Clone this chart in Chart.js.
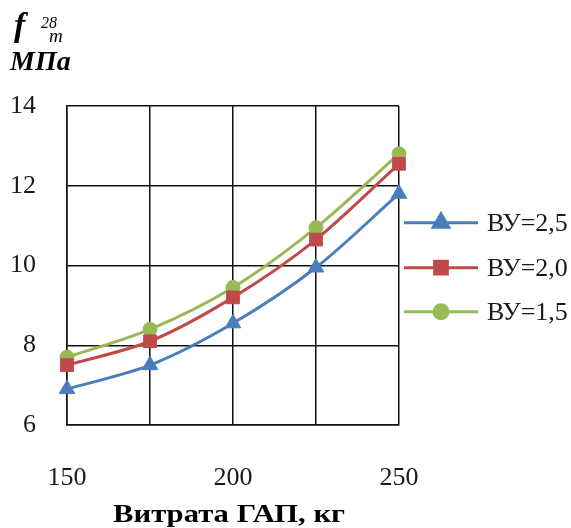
<!DOCTYPE html>
<html>
<head>
<meta charset="utf-8">
<script src="https://cdn.jsdelivr.net/npm/chart.js@4/dist/chart.umd.min.js"></script>
<style>
  html, body { margin: 0; padding: 0; background: #fff; }
  #wrap { width: 571px; height: 528px; }
</style>
</head>
<body>
<div id="wrap"><canvas id="c" width="571" height="528"></canvas></div>
<script>
// Consumption of ГАП, kg
const categories = [150, 175, 200, 225, 250];
// Strength f28m, MPa for each ВУ value
const vu25 = [6.9, 7.5, 8.55, 9.95, 11.8];
const vu20 = [7.5, 8.1, 9.2, 10.65, 12.55];
const vu15 = [7.7, 8.4, 9.45, 10.95, 12.8];
const seriesNames = ['ВУ=2,5', 'ВУ=2,0', 'ВУ=1,5'];
const xTickLabels = ['150', '', '200', '', '250'];
const yTicks = [6, 8, 10, 12, 14];
const xTitle = 'Витрата ГАП, кг';

const SERIF = '"Liberation Serif", "Times New Roman", serif';

const legendPlugin = {
  id: 'sideLegend',
  afterDraw(chart) {
    const ctx = chart.ctx;
    const rows = [222.7, 267.7, 311.7];
    ctx.save();
    chart.data.datasets.forEach((ds, i) => {
      const y = rows[i];
      ctx.strokeStyle = ds.borderColor;
      ctx.lineWidth = ds.borderWidth;
      ctx.beginPath();
      ctx.moveTo(404, y);
      ctx.lineTo(478, y);
      ctx.stroke();
      ctx.fillStyle = ds.pointBackgroundColor;
      ctx.strokeStyle = ds.pointBorderColor;
      Chart.helpers.drawPoint(ctx, {
        pointStyle: ds.pointStyle,
        radius: ds.pointRadius,
        borderWidth: ds.pointBorderWidth,
        rotation: 0
      }, 441, y);
      ctx.fillStyle = '#1a1a1a';
      ctx.font = '26px ' + SERIF;
      ctx.textBaseline = 'middle';
      ctx.textAlign = 'left';
      ctx.fillText(ds.label, 487, y + 1);
    });
    ctx.restore();
  }
};

// Axis titles: the value axis name sits above the plot, the category name below it
const titlePlugin = {
  id: 'axisTitles',
  afterDraw(chart) {
    const ctx = chart.ctx;
    ctx.save();
    ctx.fillStyle = '#000';
    ctx.textBaseline = 'alphabetic';
    ctx.textAlign = 'left';
    ctx.font = 'italic bold 34px ' + SERIF;
    ctx.fillText('f', 14, 36);
    ctx.font = 'italic 16px ' + SERIF;
    ctx.fillText('28', 41, 28);
    ctx.font = 'italic 19px ' + SERIF;
    ctx.fillText('m', 49, 42);
    ctx.font = 'italic bold 28px ' + SERIF;
    ctx.fillText('МПа', 10, 70);

    // category axis title, slightly widened
    ctx.font = 'bold 26px ' + SERIF;
    const w = ctx.measureText(xTitle).width;
    const target = 232;
    const sx = target / w;
    ctx.translate(113, 522);
    ctx.scale(sx, 1);
    ctx.fillText(xTitle, 0, 0);
    ctx.restore();
  }
};

function makeSet(label, data, color, style, radius) {
  return {
    label: label,
    data: data,
    borderColor: color,
    backgroundColor: color,
    pointBackgroundColor: color,
    pointBorderColor: color,
    pointBorderWidth: 1,
    pointStyle: style,
    pointRadius: radius,
    pointHoverRadius: radius,
    borderWidth: 3,
    tension: 0.3,
    fill: false,
    clip: false
  };
}

new Chart(document.getElementById('c'), {
  type: 'line',
  data: {
    labels: categories,
    datasets: [
      makeSet(seriesNames[0], vu25, '#4A7EBB', 'triangle', 9),
      makeSet(seriesNames[1], vu20, '#BE4B48', 'rect', 9),
      makeSet(seriesNames[2], vu15, '#98B954', 'circle', 7)
    ]
  },
  options: {
    responsive: false,
    animation: false,
    devicePixelRatio: 1,
    layout: { padding: { left: 0, right: 172, top: 106, bottom: 0 } },
    plugins: {
      legend: { display: false },
      tooltip: { enabled: false },
      title: { display: false }
    },
    scales: {
      x: {
        type: 'category',
        offset: false,
        grid: { color: '#111', lineWidth: 1.5, drawTicks: false },
        border: { color: '#111', width: 1.5 },
        ticks: {
          autoSkip: false,
          maxRotation: 0,
          padding: 38,
          color: '#1a1a1a',
          font: { family: SERIF, size: 26 },
          callback: (v, i) => xTickLabels[i]
        },
        afterFit(scale) { scale.height = 103; }
      },
      y: {
        min: 6,
        max: 14,
        grid: { color: '#111', lineWidth: 1.5, drawTicks: false },
        border: { color: '#111', width: 1.5 },
        afterBuildTicks(scale) { scale.ticks = yTicks.map(v => ({ value: v })); },
        ticks: {
          padding: 31,
          color: '#1a1a1a',
          font: { family: SERIF, size: 26 }
        },
        afterFit(scale) { scale.width = 67; }
      }
    }
  },
  plugins: [legendPlugin, titlePlugin]
});
</script>
</body>
</html>
